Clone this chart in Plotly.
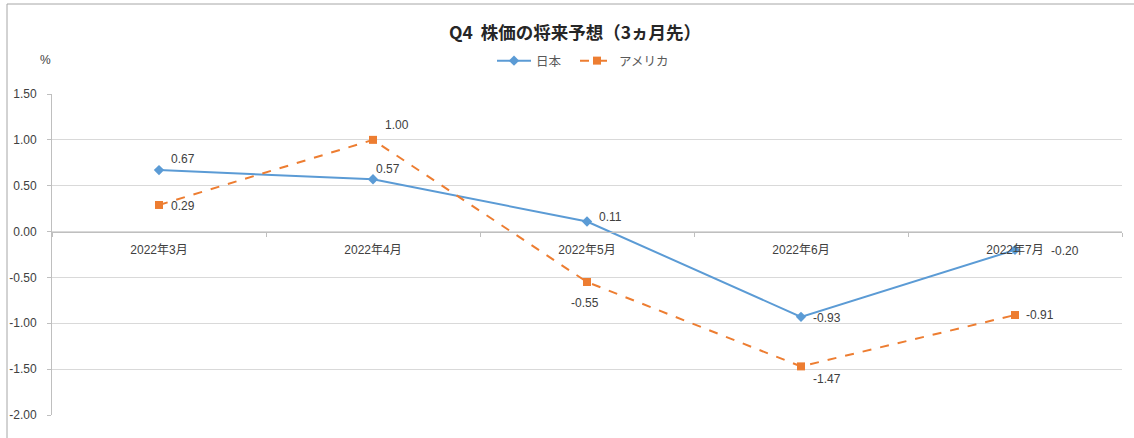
import plotly.graph_objects as go

months = ["2022年3月", "2022年4月", "2022年5月", "2022年6月", "2022年7月"]
japan = [0.67, 0.57, 0.11, -0.93, -0.20]
usa = [0.29, 1.00, -0.55, -1.47, -0.91]
y_ticks = [1.5, 1.0, 0.5, 0.0, -0.5, -1.0, -1.5, -2.0]

W, H = 1134, 438
L, R, T, B = 52, 12, 94, 23
PW, PH = W - L - R, H - T - B

def px_x(x):
    return (x - L) / PW

def px_y(y):
    return 1 - (y - T) / PH

BLUE = "#5B9BD5"
ORANGE = "#ED7D31"
TXT = "#404040"
FONT = "Liberation Sans, Noto Sans CJK JP, sans-serif"
JFONT = "Noto Sans CJK JP, Liberation Sans, sans-serif"

fig = go.Figure()
fig.add_trace(go.Scatter(
    x=months, y=japan, name="日本", mode="lines+markers", legend="legend",
    line=dict(color=BLUE, width=2),
    marker=dict(symbol="diamond", size=8, color=BLUE),
))
fig.add_trace(go.Scatter(
    x=months, y=usa, name="アメリカ", mode="lines+markers", legend="legend2",
    line=dict(color=ORANGE, width=2, dash="dash"),
    marker=dict(symbol="square", size=8, color=ORANGE),
))

# data label offsets (px)
jp_off = [(24, 11), (15, 10), (23, 4), (26, -1), (50, -1)]
us_off = [(24, -1), (24, 15), (-2, -21), (26, -13), (25, 0)]
annotations = []
for vals, offs in ((japan, jp_off), (usa, us_off)):
    for m, v, (dx, dy) in zip(months, vals, offs):
        annotations.append(dict(
            x=m, y=v, xref="x", yref="y", text=f"{v:.2f}", showarrow=False,
            xshift=dx, yshift=dy, font=dict(family=FONT, size=12, color=TXT),
        ))

annotations.append(dict(
    x=px_x(574.5), y=px_y(32), xref="paper", yref="paper",
    text="<b>Q4  株価の将来予想（3ヵ月先）</b>", showarrow=False,
    xanchor="center", yanchor="middle",
    font=dict(family=JFONT, size=17.5, color="#262626"),
))
annotations.append(dict(
    x=px_x(45), y=px_y(60), xref="paper", yref="paper", text="%",
    showarrow=False, xanchor="center", yanchor="middle",
    font=dict(family=FONT, size=12, color=TXT),
))

legend_style = dict(
    orientation="h", xanchor="left", yanchor="middle",
    font=dict(family=JFONT, size=12.5, color="#595959"),
    itemwidth=34, bgcolor="rgba(0,0,0,0)",
)

fig.update_layout(
    width=W, height=H,
    margin=dict(l=L, r=R, t=T, b=B, autoexpand=False),
    paper_bgcolor="white", plot_bgcolor="white",
    annotations=annotations,
    showlegend=True,
    legend=dict(x=px_x(492), y=px_y(61), **legend_style),
    legend2=dict(x=px_x(575), y=px_y(61), **legend_style),
    shapes=[
        dict(type="line", xref="paper", yref="paper", x0=px_x(7), x1=px_x(7),
             y0=px_y(4), y1=px_y(440), line=dict(color="#A6A6A6", width=1)),
        dict(type="line", xref="paper", yref="paper", x0=px_x(7), x1=px_x(1140),
             y0=px_y(4), y1=px_y(4), line=dict(color="#A6A6A6", width=1)),
    ],
)

fig.update_xaxes(
    type="category", categoryorder="array", categoryarray=months,
    range=[-0.5, 4.5], anchor="free", position=2 / 3.5, automargin=False,
    showline=True, linecolor="#BFBFBF", linewidth=1,
    showgrid=False, zeroline=False,
    tickson="boundaries", ticks="outside", ticklen=4, tickcolor="#BFBFBF",
    ticklabelstandoff=7,
    tickfont=dict(family=FONT, size=12, color=TXT),
)
fig.update_yaxes(
    range=[-2.0, 1.5], tickvals=y_ticks, ticktext=[f"{v:.2f}" for v in y_ticks],
    automargin=False,
    showline=True, linecolor="#BFBFBF", linewidth=1,
    showgrid=True, gridcolor="#D9D9D9", gridwidth=1, zeroline=False,
    ticks="outside", ticklen=4, tickcolor="#BFBFBF",
    ticklabelstandoff=8,
    tickfont=dict(family=FONT, size=12, color=TXT),
)

fig.write_html("out.html", config={"displayModeBar": False},
               post_script="document.body.style.margin='0';")
